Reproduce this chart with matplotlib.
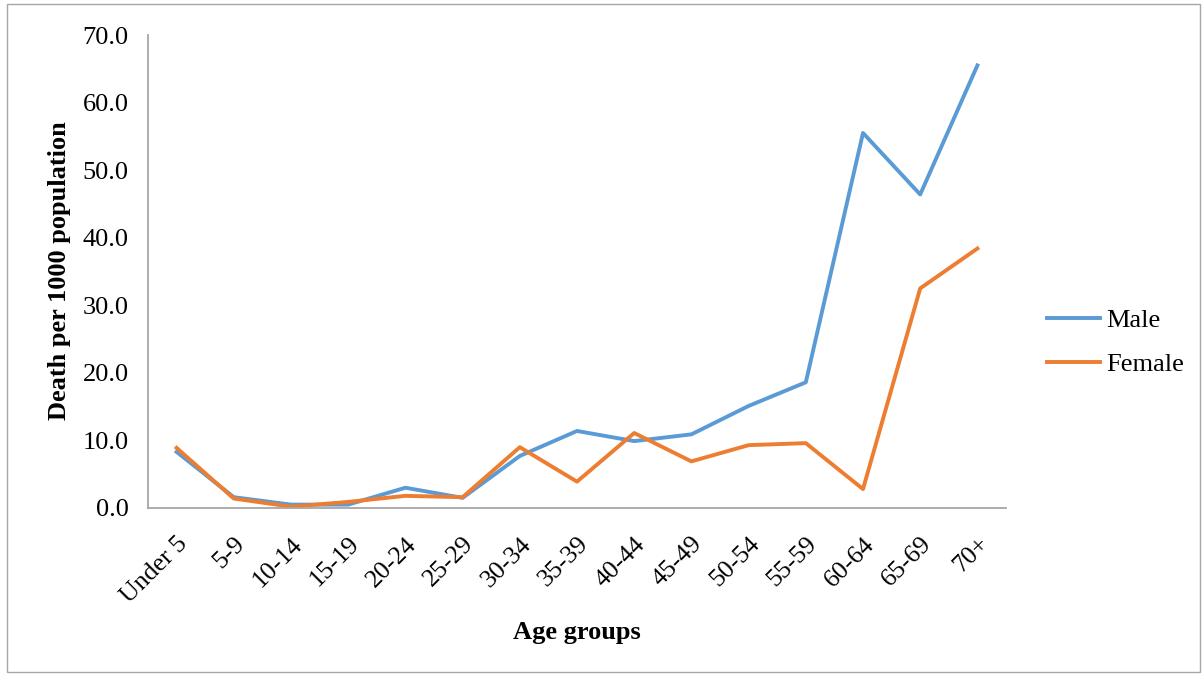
import matplotlib.pyplot as plt
from matplotlib.patches import Rectangle

# mortality rate by age group and sex (deaths per 1000 population)
age_groups = ['Under 5', '5-9', '10-14', '15-19', '20-24', '25-29', '30-34', '35-39',
              '40-44', '45-49', '50-54', '55-59', '60-64', '65-69', '70+']
male = [8.3, 1.6, 0.5, 0.5, 3.0, 1.5, 7.7, 11.4, 9.9, 10.9, 15.1, 18.6, 55.5, 46.4, 65.5]
female = [8.9, 1.4, 0.2, 0.9, 1.8, 1.6, 9.0, 3.9, 11.1, 6.9, 9.3, 9.6, 2.8, 32.5, 38.4]
y_ticks = [0, 10, 20, 30, 40, 50, 60, 70]

plt.rcParams['font.family'] = ['Liberation Serif', 'DejaVu Serif']

fig = plt.figure(figsize=(12.02, 6.74), dpi=100)
ax = fig.add_axes([148 / 1202, 1 - 508 / 674, (1006 - 148) / 1202, (508 - 35) / 674])

x = range(len(age_groups))
ax.plot(x, male, color='#5B9BD5', linewidth=2.8, label='Male', solid_joinstyle='round')
ax.plot(x, female, color='#ED7D31', linewidth=2.8, label='Female', solid_joinstyle='round')

ax.set_xlim(-0.5, len(age_groups) - 0.5)
ax.set_ylim(0, 70)
ax.set_yticks(y_ticks)
ax.set_yticklabels([f'{v:.1f}' for v in y_ticks], fontsize=19)
ax.set_xticks(list(x))
ax.set_xticklabels(age_groups, fontsize=18.5, rotation=45, ha='right', va='top',
                   rotation_mode='anchor')
ax.tick_params(axis='y', length=0, pad=14)
ax.tick_params(axis='x', length=0, pad=18)

for side in ['top', 'right']:
    ax.spines[side].set_visible(False)
for side in ['left', 'bottom']:
    ax.spines[side].set_color('#A6A6A6')
    ax.spines[side].set_linewidth(1.3)

fig.text(60 / 1202, 1 - 271 / 674, 'Death per 1000 population', rotation=90,
         ha='center', va='center', fontsize=19, fontweight='bold')
fig.text(577 / 1202, 1 - 632 / 674, 'Age groups', ha='center', va='center',
         fontsize=19, fontweight='bold')

ax.legend(loc='center left', bbox_to_anchor=(1.02, 0.35), frameon=False,
          fontsize=19, handlelength=2.0, handletextpad=0.25, labelspacing=0.8)

# thin grey frame around the chart area
fig.patches.append(Rectangle((7 / 1202, 2 / 674), 1193 / 1202, 668 / 674,
                             transform=fig.transFigure, fill=False,
                             edgecolor='#A6A6A6', linewidth=1.0))

fig.savefig('out.png', dpi=100)
